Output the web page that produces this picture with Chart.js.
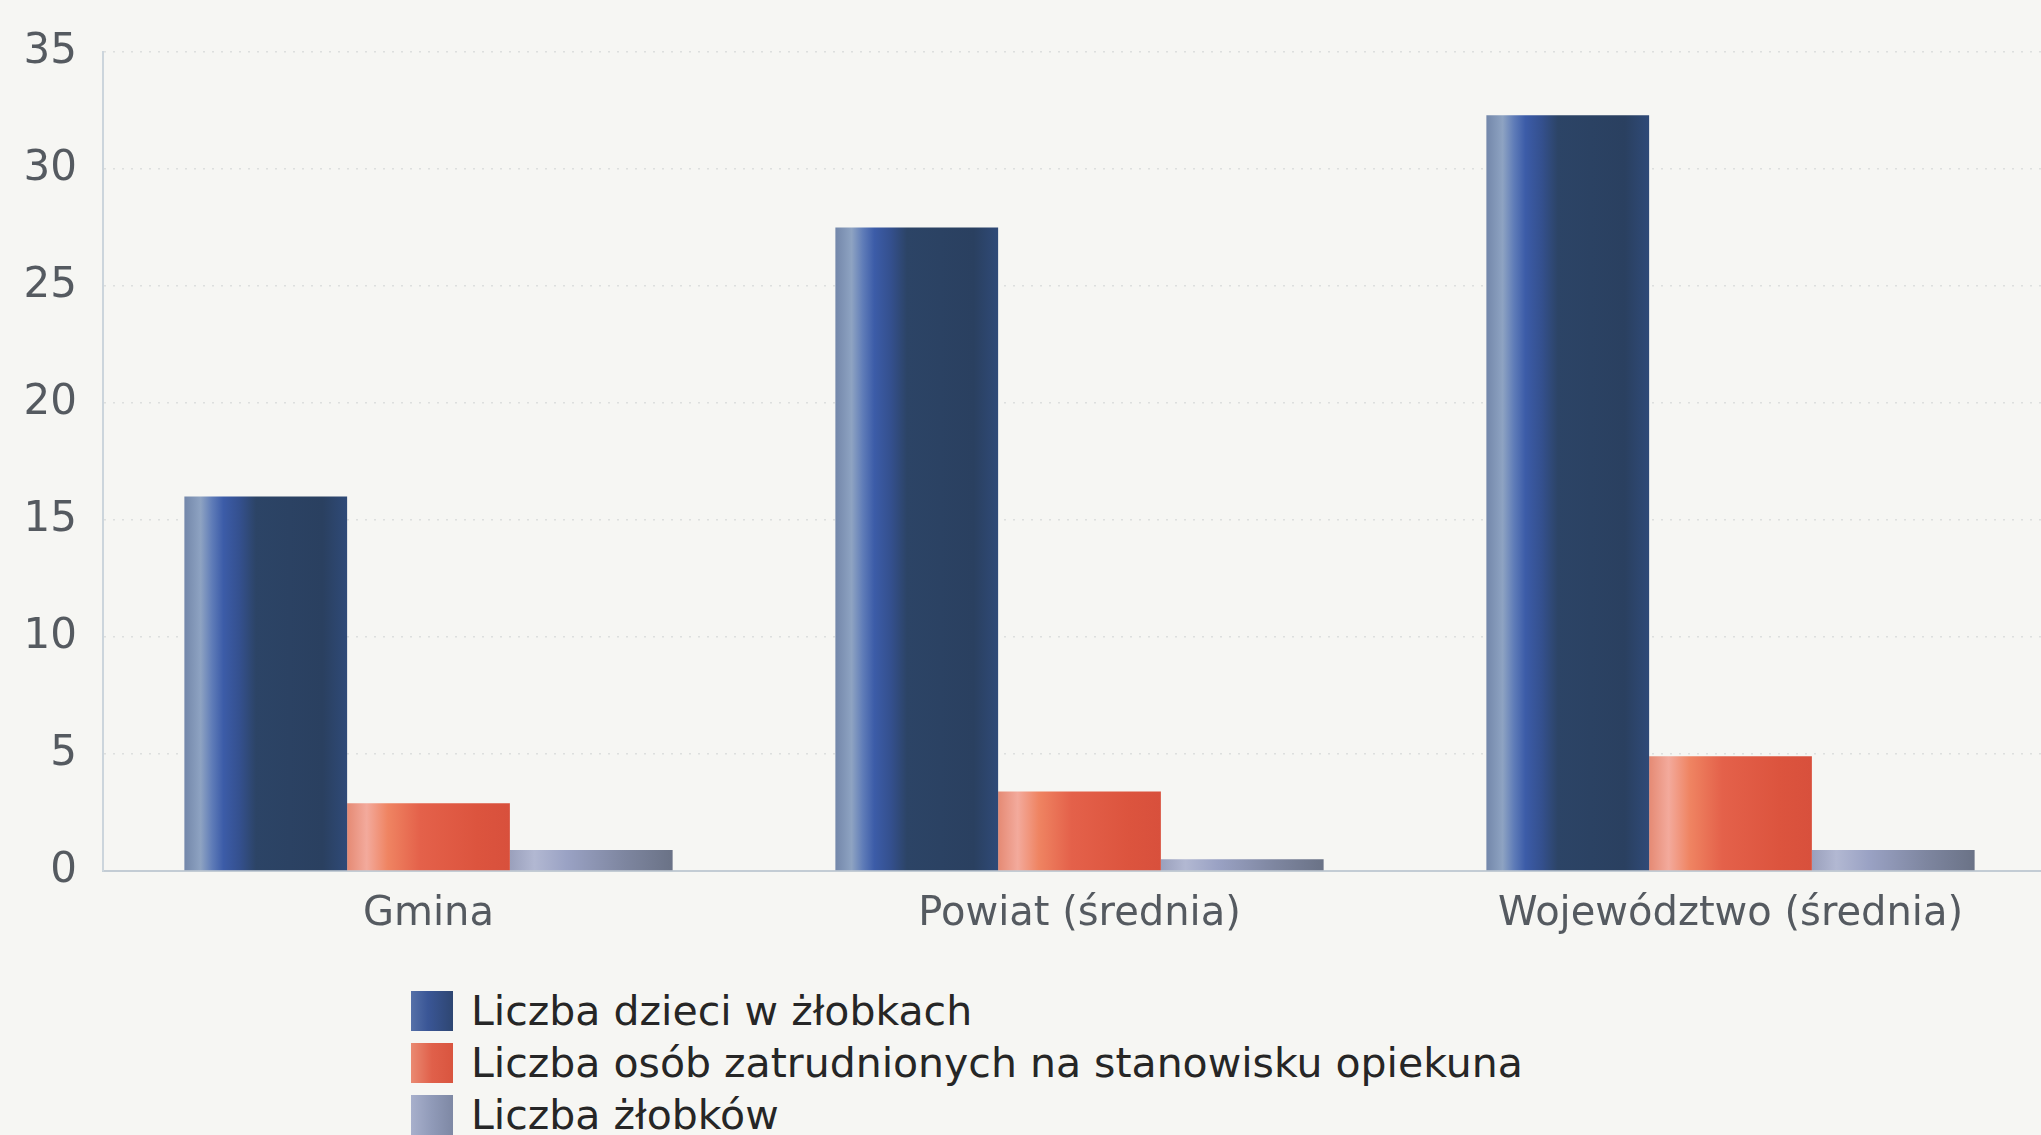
<!DOCTYPE html>
<html><head><meta charset="utf-8">
<script src="https://cdn.jsdelivr.net/npm/chart.js@4"></script>
<style>
html,body{margin:0;padding:0;background:#f6f6f3;overflow:hidden;width:2041px;height:1135px;}
#wrap{position:absolute;left:0;top:0;width:2060px;height:960px;}
#legend{position:absolute;left:411px;top:985px;font-family:"DejaVu Sans";font-size:41px;color:#262626;}
.row{display:flex;align-items:center;height:52px;white-space:nowrap;}
.box{width:42px;height:40px;margin-right:18px;}
</style></head>
<body>
<div id="wrap"><canvas id="c" width="2060" height="960"></canvas></div>
<div id="legend"></div>
<script>
const categories = ['Gmina', 'Powiat (średnia)', 'Województwo (średnia)'];
const seriesNames = ['Liczba dzieci w żłobkach', 'Liczba osób zatrudnionych na stanowisku opiekuna', 'Liczba żłobków'];
const dzieci = [16.0, 27.5, 32.3];
const opiekunowie = [2.9, 3.4, 4.9];
const zlobki = [0.9, 0.5, 0.9];
const yMin = 0, yMax = 35, yStep = 5;

const gradStops = [
  [[0,'#7387aa'],[0.1,'#8ea3c2'],[0.17,'#5f7cb8'],[0.24,'#3c5ca8'],[0.34,'#34508e'],[0.44,'#2c4466'],[0.85,'#2a4060'],[1,'#2f4a78']],
  [[0,'#e58a74'],[0.12,'#f3aa9c'],[0.25,'#ef8462'],[0.45,'#e4614a'],[0.8,'#dc543e'],[1,'#d8503c']],
  [[0,'#9aa0bc'],[0.15,'#b2b8d2'],[0.35,'#9aa2c4'],[0.7,'#7e86a0'],[1,'#6a7286']]
];
const solid = ['#30487a','#e0604a','#8e96b2'];

function barGradient(ctx) {
  const chart = ctx.chart;
  const c = chart.ctx;
  const xs = chart.scales.x;
  if (!chart.chartArea || !xs || ctx.type !== 'data') return solid[ctx.datasetIndex];
  const catW = xs.width / categories.length;
  const groupW = catW * 0.75;
  const barW = groupW / 3;
  const center = xs.getPixelForValue(ctx.dataIndex);
  const left = center - groupW / 2 + ctx.datasetIndex * barW;
  const g = c.createLinearGradient(left, 0, left + barW, 0);
  gradStops[ctx.datasetIndex].forEach(s => g.addColorStop(s[0], s[1]));
  return g;
}

const datasets = [dzieci, opiekunowie, zlobki].map((d, i) => ({
  label: seriesNames[i],
  data: d,
  backgroundColor: barGradient,
  borderWidth: 0,
  categoryPercentage: 0.75,
  barPercentage: 1.0
}));

new Chart(document.getElementById('c'), {
  type: 'bar',
  data: { labels: categories, datasets },
  options: {
    responsive: false,
    animation: false,
    layout: { padding: { left: 23, right: 4, top: 52, bottom: 1 } },
    plugins: { legend: { display: false }, tooltip: { enabled: false } },
    scales: {
      x: {
        grid: { display: false, drawTicks: false },
        border: { display: true, color: '#c3ccd4', width: 2 },
        ticks: { font: { family: 'DejaVu Sans', size: 40 }, color: '#555a60', padding: 20 }
      },
      y: {
        min: yMin, max: yMax,
        afterFit(scale) { scale.width = 80; },
        grid: { color: 'rgba(130,140,150,0.22)', drawTicks: false, lineWidth: 1.5 },
        border: { display: true, color: '#ccd5dc', width: 2, dash: [2, 7] },
        ticks: { stepSize: yStep, font: { family: 'DejaVu Sans', size: 42 }, color: '#555a60', padding: 26 }
      }
    }
  },
  plugins: [{
    id: 'solidAxisLine',
    afterDraw(chart) {
      // y border redrawn solid (border.dash applies to grid lines in v4)
      const ys = chart.scales.y, a = chart.chartArea, c = chart.ctx;
      c.save();
      c.strokeStyle = '#ccd5dc'; c.lineWidth = 2;
      c.beginPath(); c.moveTo(ys.right, a.top); c.lineTo(ys.right, a.bottom); c.stroke();
      c.restore();
    }
  }]
});

// HTML legend
const legendColors = [
  'linear-gradient(90deg,#5570a8,#3a5696 40%,#2e4672)',
  'linear-gradient(90deg,#ea8a72,#e0604a 50%,#d9553f)',
  'linear-gradient(90deg,#a8b0cc,#909ab8 50%,#7e88a4)'
];
const lg = document.getElementById('legend');
seriesNames.forEach((n, i) => {
  const r = document.createElement('div'); r.className = 'row';
  const b = document.createElement('div'); b.className = 'box'; b.style.background = legendColors[i];
  const t = document.createElement('span'); t.textContent = n;
  r.appendChild(b); r.appendChild(t); lg.appendChild(r);
});
</script>
</body></html>
